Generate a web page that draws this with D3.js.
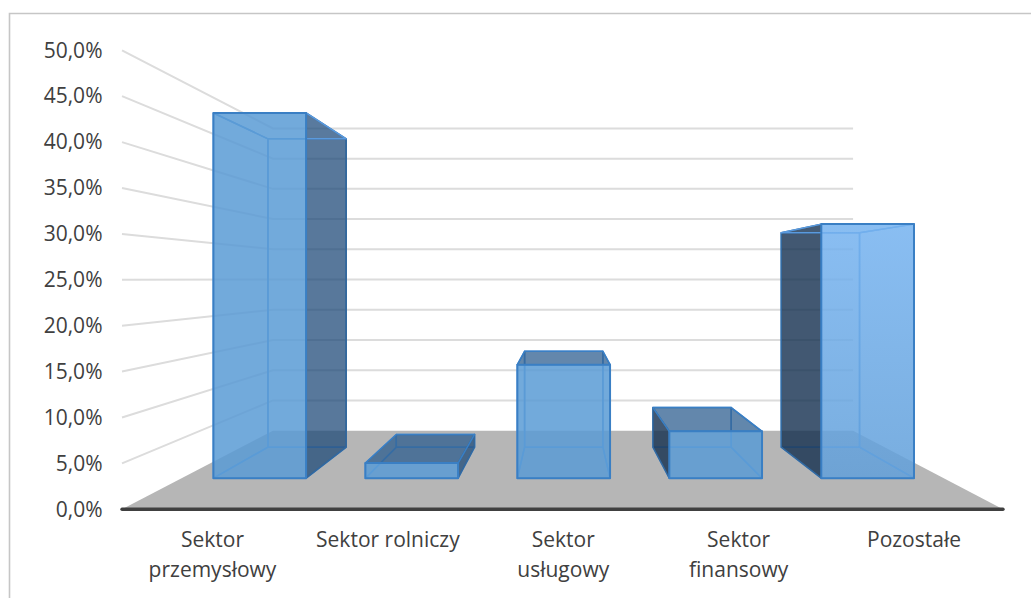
<!DOCTYPE html>
<html>
<head>
<meta charset="utf-8">
<script src="https://cdn.jsdelivr.net/npm/d3@7"></script>
<style>
  html, body { margin: 0; background: #fff; }
  text { font-family: "Open Sans", sans-serif; fill: #404040; }
</style>
</head>
<body>
<div id="container"></div>
<script>
/* DATA */
const categories = ["Sektor przemysłowy", "Sektor rolniczy", "Sektor usługowy", "Sektor finansowy", "Pozostałe"];
const categoryLines = [["Sektor", "przemysłowy"], ["Sektor rolniczy"], ["Sektor", "usługowy"], ["Sektor", "finansowy"], ["Pozostałe"]];
const shares = [46, 1.9, 14.3, 5.9, 32];
const yTicks = [0, 5, 10, 15, 20, 25, 30, 35, 40, 45, 50];

/* CONSTANTS */
const width = 1031, height = 598;
const vanish = { x: 564, y: 279 };   // vanishing point of the 3d box

const svg = d3.select("#container").append("svg")
  .attr("width", width).attr("height", height)
  .style("display", "block");

// SCALES
const xScale = d3.scaleBand().domain(categories).range([124.3, 1003]).paddingInner(0.39).paddingOuter(0.195);
const labelScale = d3.scalePoint().domain(categories).range([212.5, 914]);
const yScale = d3.scaleLinear().domain([0, 50]).range([509.3, 50.3]);
// depth: 0 = front of the floor, 1 = back wall; gives the perspective factor
const depthScale = d3.scaleLinear().domain([0, 1]).range([1, 0.6585]);
const barFront = 0.396, barBack = 0.79;

const project = (x, v, z) => {
  const s = depthScale(z);
  return [vanish.x + (x - vanish.x) * s, vanish.y + (yScale(v) - vanish.y) * s];
};
const line = d3.line();

// gradient for the last, brighter column
const grad = svg.append("defs").append("linearGradient")
  .attr("id", "lastFront").attr("x1", 0).attr("y1", 0).attr("x2", 0).attr("y2", 1);
grad.append("stop").attr("offset", "0%").attr("stop-color", "#76b3f0");
grad.append("stop").attr("offset", "100%").attr("stop-color", "#62a0da");

// CHART FRAME
svg.append("path")
  .attr("d", `M9.5,${height}V13.5H${width}`)
  .attr("fill", "none").attr("stroke", "#c6c6c6").attr("stroke-width", 1.6);

// FLOOR
const xLeft = 122, xRight = 1003;
svg.append("path")
  .attr("d", line([project(xLeft, 0, 0), project(xRight, 0, 0), project(xRight, 0, 1), project(xLeft, 0, 1)]) + "Z")
  .attr("fill", "#b6b6b6");

// GRID
svg.selectAll(".grid").data(yTicks.slice(1)).join("path")
  .attr("class", "grid")
  .attr("d", d => line([project(xLeft, d, 0), project(xLeft, d, 1), project(xRight, d, 1)]))
  .attr("fill", "none").attr("stroke", "#dcdcdc").attr("stroke-width", 2);

// BARS
const faces = (d, i) => {
  const c = categories[i];
  const x0 = xScale(c), x1 = x0 + xScale.bandwidth();
  const p = project;
  const frontL = p(x0, 0, barFront)[0], backL = p(x0, 0, barBack)[0];
  const frontR = p(x1, 0, barFront)[0], backR = p(x1, 0, barBack)[0];
  const topY = p(x0, d, barFront)[1], topBackY = p(x0, d, barBack)[1];
  return [
    { f: "back", i, pts: [p(x0, 0, barBack), p(x1, 0, barBack), p(x1, d, barBack), p(x0, d, barBack)] },
    { f: "bottom", i, pts: [p(x0, 0, barFront), p(x1, 0, barFront), p(x1, 0, barBack), p(x0, 0, barBack)] },
    { f: frontL > backL ? "outerLeft" : "inner", i, pts: [p(x0, 0, barFront), p(x0, d, barFront), p(x0, d, barBack), p(x0, 0, barBack)] },
    { f: frontR < backR ? "outerRight" : "inner", i, pts: [p(x1, 0, barFront), p(x1, d, barFront), p(x1, d, barBack), p(x1, 0, barBack)] },
    { f: topY > topBackY ? "outerTop" : "inner", i, pts: [p(x0, d, barFront), p(x1, d, barFront), p(x1, d, barBack), p(x0, d, barBack)] },
    { f: "front", i, pts: [p(x0, 0, barFront), p(x1, 0, barFront), p(x1, d, barFront), p(x0, d, barFront)] }
  ];
};
const faceStyle = {
  back: ["#5b9bd5", 0.04, "#5a9ade"],
  bottom: ["#5b9bd5", 0.04, "#5a9ade"],
  inner: ["#5b9bd5", 0.05, "#5a9ade"],
  outerLeft: ["#14304f", 0.8, "#33699f"],
  outerRight: ["#1f4a78", 0.74, "#33699f"],
  outerTop: ["#285a8c", 0.72, "#3a7fc4"],
  front: ["#5b9bd5", 0.85, "#3a7fc4"]
};
const bars = svg.selectAll(".bar").data(shares).join("g").attr("class", "bar");
bars.selectAll("path").data(faces).join("path")
  .attr("d", d => line(d.pts) + "Z")
  .attr("fill", d => d.f === "front" && d.i === shares.length - 1 ? "url(#lastFront)" : faceStyle[d.f][0])
  .attr("fill-opacity", d => faceStyle[d.f][1])
  .attr("stroke", d => faceStyle[d.f][2])
  .attr("stroke-width", d => d.f === "front" ? 2 : 1.5)
  .attr("stroke-linejoin", "round");

// AXES
const yAxis = d3.axisLeft(yScale)
  .tickValues(yTicks).tickSize(0).tickPadding(0)
  .tickFormat(d => d3.format(".1f")(d).replace(".", ",") + "%");
svg.append("g")
  .attr("transform", "translate(102.5,0)")
  .call(yAxis)
  .call(g => g.select(".domain").remove())
  .selectAll("text").style("font-size", "21px").style("font-family", '"Open Sans", sans-serif').attr("fill", "#404040");

svg.append("path")
  .attr("d", line([project(xLeft, 0, 0), project(xRight, 0, 0)]))
  .attr("stroke", "#404040").attr("stroke-width", 3.4).attr("stroke-linecap", "round");

const labels = svg.selectAll(".cat").data(categories).join("text")
  .attr("class", "cat")
  .attr("text-anchor", "middle")
  .style("font-size", "21px");
labels.selectAll("tspan").data((d, i) => categoryLines[i].map(t => ({ t, c: d }))).join("tspan")
  .attr("x", d => labelScale(d.c))
  .attr("y", (d, i) => 546.5 + i * 30)
  .text(d => d.t);
</script>
</body>
</html>
